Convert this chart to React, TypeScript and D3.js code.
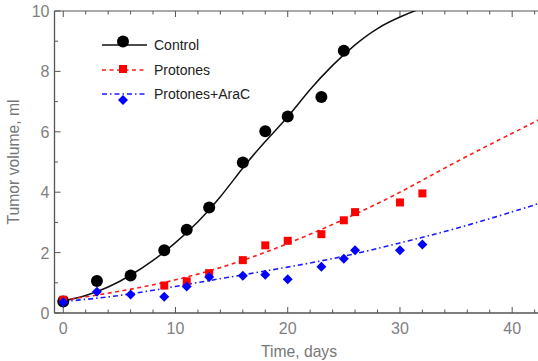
import React from "react";
import * as d3 from "d3";

// measured points
const controlDays = [0, 3, 6, 9, 11, 13, 16, 18, 20, 23, 25];
const controlVals = [0.38, 1.06, 1.24, 2.08, 2.76, 3.49, 4.98, 6.02, 6.51, 7.15, 8.68];

const protonDays = [0, 9, 11, 13, 16, 18, 20, 23, 25, 26, 30, 32];
const protonVals = [0.44, 0.91, 1.05, 1.32, 1.75, 2.24, 2.39, 2.61, 3.07, 3.34, 3.66, 3.96];

const araDays = [0, 3, 6, 9, 11, 13, 16, 18, 20, 23, 25, 26, 30, 32];
const araVals = [0.36, 0.7, 0.61, 0.54, 0.88, 1.19, 1.23, 1.27, 1.12, 1.53, 1.8, 2.08, 2.08, 2.27];

// fitted curves
const controlFitDays = [0, 2, 4, 6, 8, 10, 12, 14, 16, 18, 20, 22, 24, 26, 28, 30, 32, 34];
const controlFitVals = [0.4, 0.58, 0.86, 1.25, 1.74, 2.33, 3.02, 3.85, 4.8, 5.68, 6.5, 7.4, 8.2, 8.88, 9.42, 9.8, 10.1, 10.35];

const protonFitDays = [0, 5, 10, 15, 20, 25, 30, 35, 40, 42.5];
const protonFitVals = [0.42, 0.72, 1.1, 1.62, 2.3, 3.1, 4.0, 5.0, 5.95, 6.42];

const araFitDays = [0, 5, 10, 15, 20, 25, 30, 35, 40, 42.5];
const araFitVals = [0.38, 0.58, 0.88, 1.2, 1.52, 1.88, 2.32, 2.8, 3.35, 3.64];

const xMajor = [0, 10, 20, 30, 40];
const yMajor = [0, 2, 4, 6, 8, 10];
const legendNames = ["Control", "Protones", "Protones+AraC"];

const W = 538, H = 361;
const left = 54.5, right = 538, top = 11, bottom = 313;
const font = "Arial, 'Liberation Sans', sans-serif";
const axisCol = "#555";
const tickCol = "#808080";

const zip = (xs: number[], ys: number[]) => xs.map((d, i) => [d, ys[i]] as [number, number]);

export default function App() {
  const x = d3.scaleLinear().domain([-0.78, 42.3]).range([left, right]);
  const y = d3.scaleLinear().domain([0, 10]).range([bottom, top]);

  const line = d3.line<[number, number]>()
    .x(d => x(d[0]))
    .y(d => y(d[1]))
    .curve(d3.curveNatural);

  const xMinor = d3.range(0, 43, 2).filter(v => v % 10 !== 0);
  const yMinor = d3.range(1, 10, 2);

  const diamond = (cx: number, cy: number, r = 5) =>
    `M${cx},${cy - r}L${cx + r},${cy}L${cx},${cy + r}L${cx - r},${cy}Z`;

  const legendY = [45, 70, 94];

  return (
    <svg width={W} height={H} style={{ position: "absolute", left: 0, top: 0 }} fontFamily={font}>
      <defs>
        <clipPath id="plot">
          <rect x={left} y={top} width={right - left} height={bottom - top} />
        </clipPath>
      </defs>

      {/* frame */}
      <line x1={left} x2={right} y1={bottom} y2={bottom} stroke={axisCol} strokeWidth={1.3} />
      <line x1={left} x2={right} y1={top} y2={top} stroke={axisCol} strokeWidth={1} />
      <line x1={left} x2={left} y1={top} y2={bottom} stroke={axisCol} strokeWidth={1.3} />

      {/* x ticks */}
      {xMajor.map(v => (
        <g key={"xm" + v}>
          <line x1={x(v)} x2={x(v)} y1={bottom} y2={bottom - 6} stroke={axisCol} />
          <line x1={x(v)} x2={x(v)} y1={top} y2={top + 6} stroke={axisCol} />
          <text x={x(v)} y={bottom + 21} textAnchor="middle" fontSize={16} fill={tickCol}>{v}</text>
        </g>
      ))}
      {xMinor.map(v => (
        <g key={"xn" + v}>
          <line x1={x(v)} x2={x(v)} y1={bottom} y2={bottom - 3.5} stroke={axisCol} />
          <line x1={x(v)} x2={x(v)} y1={top} y2={top + 3.5} stroke={axisCol} />
        </g>
      ))}

      {/* y ticks */}
      {yMajor.map(v => (
        <g key={"ym" + v}>
          <line x1={left} x2={left + 6} y1={y(v)} y2={y(v)} stroke={axisCol} />
          <text x={left - 5} y={y(v) + 6} textAnchor="end" fontSize={16} fill={tickCol}>{v}</text>
        </g>
      ))}
      {yMinor.map(v => (
        <line key={"yn" + v} x1={left} x2={left + 3.5} y1={y(v)} y2={y(v)} stroke={axisCol} />
      ))}

      <text x={299} y={357} textAnchor="middle" fontSize={15.7} fill="#777">Time, days</text>
      <text transform="translate(19,162) rotate(-90)" textAnchor="middle" fontSize={15.7} fill="#777">Tumor volume, ml</text>

      {/* fits */}
      <g clipPath="url(#plot)" fill="none">
        <path d={line(zip(controlFitDays, controlFitVals)) || ""} stroke="#111" strokeWidth={1.5} />
        <path d={line(zip(protonFitDays, protonFitVals)) || ""} stroke="#ff1a1a" strokeWidth={1.6} strokeDasharray="4,3.5" />
        <path d={line(zip(araFitDays, araFitVals)) || ""} stroke="#1a1aff" strokeWidth={1.6} strokeDasharray="5,3,1.5,3" />
      </g>

      {/* markers */}
      {zip(controlDays, controlVals).map((d, i) => (
        <circle key={"c" + i} cx={x(d[0])} cy={y(d[1])} r={6} fill="#000" />
      ))}
      {zip(protonDays, protonVals).map((d, i) => (
        <rect key={"p" + i} x={x(d[0]) - 4} y={y(d[1]) - 4} width={8} height={8} fill="#ff0000" />
      ))}
      {zip(araDays, araVals).map((d, i) => (
        <path key={"a" + i} d={diamond(x(d[0]), y(d[1]))} fill="#0000ff" />
      ))}

      {/* legend */}
      <g>
        <line x1={102} x2={147} y1={legendY[0]} y2={legendY[0]} stroke="#111" strokeWidth={1.5} />
        <circle cx={123} cy={legendY[0] - 3.5} r={6} fill="#000" />
        <line x1={102} x2={147} y1={legendY[1]} y2={legendY[1]} stroke="#ff1a1a" strokeWidth={1.6} strokeDasharray="4,3.5" />
        <rect x={119} y={legendY[1] - 5} width={8} height={8} fill="#ff0000" />
        <line x1={102} x2={147} y1={legendY[2]} y2={legendY[2]} stroke="#1a1aff" strokeWidth={1.6} strokeDasharray="5,3,1.5,3" />
        <path d={diamond(123, legendY[2] + 6)} fill="#0000ff" />
        {legendNames.map((n, i) => (
          <text key={n} x={154} y={legendY[i] + 5} fontSize={14} fill="#222">{n}</text>
        ))}
      </g>
    </svg>
  );
}
